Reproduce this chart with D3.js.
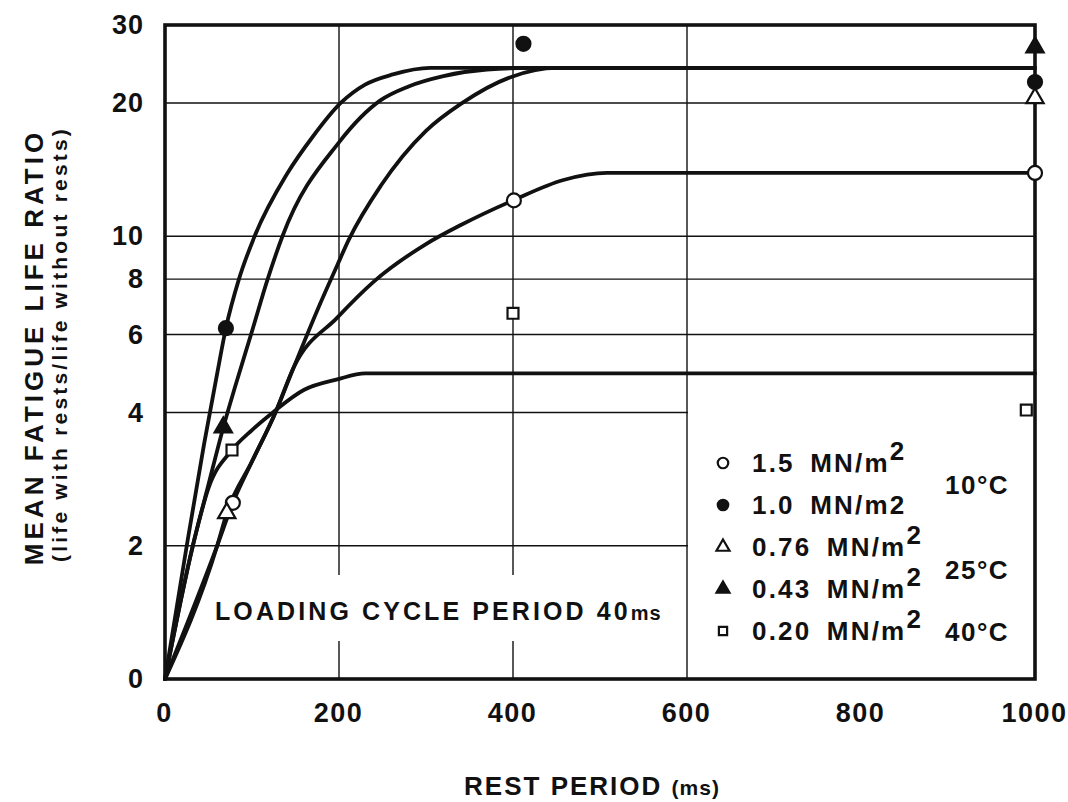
<!DOCTYPE html>
<html>
<head>
<meta charset="utf-8">
<script src="https://cdn.jsdelivr.net/npm/d3@7"></script>
<style>
  html, body { margin: 0; padding: 0; background: #fff; }
  svg { display: block; }
  text { font-family: "Liberation Sans", Arial, Helvetica, sans-serif; font-weight: bold; fill: #111; }
</style>
</head>
<body>
<svg id="chart" width="1068" height="802"></svg>
<script>
// ---------- data ----------
const xTicks = [0, 200, 400, 600, 800, 1000];
const xTickLabels = ["0", "200", "400", "600", "800", "1000"];
const yTicks = [1, 2, 4, 6, 8, 10, 20, 30];
const yTickLabels = ["0", "2", "4", "6", "8", "10", "20", "30"];
const xGrid = [200, 400, 600];
const yGridFull = [6, 8, 10, 20];
const yGridPartial = [2, 4];

// fitted curves
const curve15X  = [0, 60, 78, 100, 127, 148, 198, 240, 300, 340, 400, 458, 508, 1000];
const curve15Y  = [1, 2, 2.5, 3.1, 4, 5.06, 6.55, 7.9, 9.6, 10.6, 12.05, 13.4, 13.9, 13.9];
const curve10X  = [0, 25, 45, 60, 70, 85, 103, 140, 170, 202, 230, 262, 305, 1000];
const curve10Y  = [1, 2, 3.4, 4.9, 6.2, 8, 10, 13.8, 16.8, 20, 22.0, 23.2, 24, 24];
const curve076X = [0, 60, 71, 100, 127, 148, 175, 198, 211, 248, 300, 340, 398, 450, 1000];
const curve076Y = [1, 2, 2.37, 3.1, 4, 5.06, 6.8, 8.6, 9.8, 13.0, 17.3, 19.9, 22.9, 24, 24];
const curve043X = [0, 32, 50, 67, 81, 100, 118, 135, 200, 248, 280, 320, 370, 420, 1000];
const curve043Y = [1, 2, 2.75, 3.7, 4.6, 6.1, 8, 10, 16.3, 20.3, 21.8, 23.0, 23.8, 24, 24];
const curve020X = [0, 32, 50, 77, 100, 124, 160, 198, 230, 1000];
const curve020Y = [1, 2, 2.7, 3.29, 3.65, 4, 4.5, 4.75, 4.9, 4.9];

// measured points
const pts15X  = [78, 401, 1000];  const pts15Y  = [2.5, 12.05, 13.9];
const pts10X  = [70, 412, 1000];  const pts10Y  = [6.2, 27.2, 22.3];
const pts076X = [71, 1000];       const pts076Y = [2.37, 20.5];
const pts043X = [67, 1000];       const pts043Y = [3.7, 26.7];
const pts020X = [77, 400, 990];   const pts020Y = [3.29, 6.7, 4.05];

const legendLabels = ["1.5 MN/m", "1.0 MN/m2", "0.76 MN/m", "0.43 MN/m", "0.20 MN/m"];
const legendSup = ["2", "", "2", "2", "2"];
const legendSymbols = ["openCircle", "filledCircle", "openTriangle", "filledTriangle", "openSquare"];
const tempLabels = ["10°C", "25°C", "40°C"];

// ---------- drawing ----------
const svg = d3.select("#chart");
const x = d3.scaleLinear().domain([0, 1000]).range([165, 1035]);
const y = d3.scaleLog().domain([1, 30]).range([679, 25]);

const zip = (xs, ys) => xs.map((v, i) => [v, ys[i]]);

// gridlines
const grid = svg.append("g").attr("stroke", "#111").attr("stroke-width", 1.4);
grid.selectAll("line.v").data(xGrid).join("line")
  .attr("x1", d => x(d)).attr("x2", d => x(d))
  .attr("y1", y(30)).attr("y2", y(1));
grid.selectAll("line.hf").data(yGridFull).join("line")
  .attr("x1", x(0)).attr("x2", x(1000))
  .attr("y1", d => y(d)).attr("y2", d => y(d));
grid.selectAll("line.hp").data(yGridPartial).join("line")
  .attr("x1", x(0)).attr("x2", x(600) + 10)
  .attr("y1", d => y(d)).attr("y2", d => y(d));

// white area behind the loading-cycle note
svg.append("rect").attr("x", 205).attr("y", 575).attr("width", 470).attr("height", 66).attr("fill", "#fff");
// legend white area (left edge is the 600 ms line)
svg.append("rect").attr("x", x(600) + 1).attr("y", 398).attr("width", x(1000) - x(600) - 1).attr("height", y(1) - 398).attr("fill", "#fff");

// curves
const line = d3.line().x(d => x(d[0])).y(d => y(d[1])).curve(d3.curveMonotoneX);
const curves = [
  zip(curve15X, curve15Y), zip(curve10X, curve10Y), zip(curve076X, curve076Y),
  zip(curve043X, curve043Y), zip(curve020X, curve020Y)
];
svg.append("g").selectAll("path").data(curves).join("path")
  .attr("d", line).attr("fill", "none").attr("stroke", "#111")
  .attr("stroke-width", 3.8).attr("stroke-linejoin", "round").attr("stroke-linecap", "round");

// frame
svg.append("rect").attr("x", x(0)).attr("y", y(30)).attr("width", x(1000) - x(0)).attr("height", y(1) - y(30))
  .attr("fill", "none").attr("stroke", "#111").attr("stroke-width", 3.6);

// markers
function drawSymbol(g, type, cx, cy, scale) {
  const s = scale || 1;
  if (type === "openCircle" || type === "filledCircle") {
    g.append("circle").attr("cx", cx).attr("cy", cy).attr("r", 7 * s)
      .attr("fill", type === "filledCircle" ? "#111" : "#fff").attr("stroke", "#111").attr("stroke-width", 2.2);
  } else if (type === "openTriangle" || type === "filledTriangle") {
    g.append("path").attr("transform", `translate(${cx},${cy})`)
      .attr("d", d3.symbol().type(d3.symbolTriangle).size(130 * s * s)())
      .attr("fill", type === "filledTriangle" ? "#111" : "#fff").attr("stroke", "#111").attr("stroke-width", 2.2);
  } else {
    g.append("path").attr("transform", `translate(${cx},${cy})`)
      .attr("d", d3.symbol().type(d3.symbolSquare).size(120 * s * s)())
      .attr("fill", "#fff").attr("stroke", "#111").attr("stroke-width", 2.2);
  }
}
const mk = svg.append("g");
const pointSets = [
  ["openCircle", pts15X, pts15Y], ["filledCircle", pts10X, pts10Y],
  ["openTriangle", pts076X, pts076Y], ["filledTriangle", pts043X, pts043Y],
  ["openSquare", pts020X, pts020Y]
];
pointSets.forEach(([t, xs, ys]) => xs.forEach((v, i) => drawSymbol(mk, t, x(v), y(ys[i]))));

// axes (labels only)
const xAxis = svg.append("g").attr("transform", `translate(0,${y(1) + 21})`)
  .call(d3.axisBottom(x).tickValues(xTicks).tickFormat((d, i) => xTickLabels[i]).tickSize(0));
xAxis.select(".domain").remove();
xAxis.selectAll("text").attr("font-size", 27).attr("letter-spacing", 1.5).attr("dx", -1)
  .attr("font-family", "Liberation Sans, Arial, sans-serif").attr("font-weight", "bold").attr("fill", "#111");

const yAxis = svg.append("g").attr("transform", `translate(${x(0) - 18},0)`)
  .call(d3.axisLeft(y).tickValues(yTicks).tickFormat((d, i) => yTickLabels[i]).tickSize(0));
yAxis.select(".domain").remove();
yAxis.selectAll("text").attr("font-size", 27).attr("letter-spacing", 1)
  .attr("font-family", "Liberation Sans, Arial, sans-serif").attr("font-weight", "bold").attr("fill", "#111");

// axis titles
const xt = svg.append("text").attr("x", 592).attr("y", 795).attr("text-anchor", "middle")
  .attr("font-size", 26).attr("letter-spacing", 2);
xt.append("tspan").text("REST PERIOD ");
xt.append("tspan").attr("font-size", 21).attr("letter-spacing", 1).text("(ms)");

svg.append("text").attr("transform", "translate(43,347) rotate(-90)").attr("text-anchor", "middle")
  .attr("font-size", 26).attr("letter-spacing", 4).text("MEAN FATIGUE LIFE RATIO");
svg.append("text").attr("transform", "translate(67,344) rotate(-90)").attr("text-anchor", "middle")
  .attr("font-size", 21).attr("letter-spacing", 3.2).text("(life with rests/life without rests)");

// note
const note = svg.append("text").attr("x", 215).attr("y", 620).attr("font-size", 25).attr("letter-spacing", 3.1);
note.append("tspan").text("LOADING CYCLE PERIOD 40");
note.append("tspan").attr("font-size", 20).attr("letter-spacing", 1).text("ms");

// legend
const lg = svg.append("g");
legendLabels.forEach((lab, i) => {
  const cy = 463 + i * 42;
  drawSymbol(lg, legendSymbols[i], 723, cy, 0.75);
  const t = lg.append("text").attr("x", 752).attr("y", cy + 9).attr("font-size", 26)
    .attr("letter-spacing", 2.2).attr("word-spacing", 6);
  t.append("tspan").text(lab);
  if (legendSup[i]) t.append("tspan").attr("dy", -12).text(legendSup[i]);
});
const tempY = [485, 570, 632];
tempLabels.forEach((t, i) => {
  lg.append("text").attr("x", 945).attr("y", tempY[i] + 9).attr("font-size", 26)
    .attr("letter-spacing", 1.5).text(t);
});
</script>
</body>
</html>
